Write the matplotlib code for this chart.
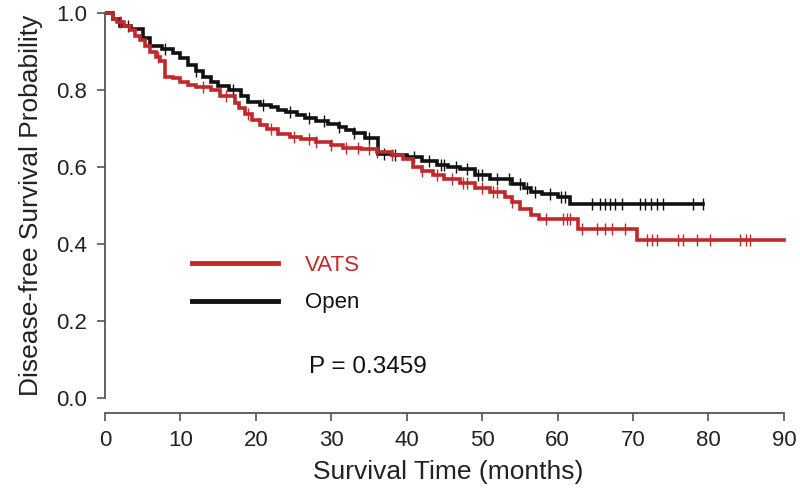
import numpy as np
import matplotlib
matplotlib.use("Agg")
import matplotlib.pyplot as plt

plt.rcParams['font.family'] = ['Liberation Sans', 'DejaVu Sans']

# ---- data ----
open_t = [0, 1, 2, 3.5, 5, 6, 7.5, 9, 10, 11, 12, 13, 14, 15, 16.5, 18, 19, 20.5, 22, 23,
          24, 25.5, 26.5, 28, 29.5, 31, 32, 33, 34.5, 36.2, 38, 40, 42, 44, 45.5, 47, 49,
          51, 54, 55.5, 56.5, 58, 60, 61.6]
open_s = [1.0, 0.985, 0.965, 0.958, 0.935, 0.915, 0.906, 0.895, 0.882, 0.865, 0.85, 0.835,
          0.82, 0.81, 0.80, 0.785, 0.77, 0.762, 0.755, 0.748, 0.742, 0.735, 0.728, 0.72,
          0.712, 0.705, 0.695, 0.688, 0.675, 0.635, 0.63, 0.625, 0.615, 0.605, 0.60, 0.594,
          0.58, 0.568, 0.555, 0.545, 0.536, 0.53, 0.523, 0.503]
open_end = 79.3
open_cens = [3, 8, 12, 17, 21, 24.5, 27, 29, 31, 33, 35, 37, 38.5, 41, 43, 44.5, 45, 46.5,
             48, 49.5, 50, 52, 53.5, 55, 56, 57, 59, 60.5, 61, 64.6, 65.6, 66.3, 67, 67.6,
             68.5, 70.9, 71.6, 72.4, 73.2, 74, 78, 79.3]

vats_t = [0, 1, 1.6, 2.5, 3.3, 4, 4.6, 5.3, 6, 6.7, 7.3, 8, 9, 10, 11, 12, 14, 15.2, 17.2,
          17.8, 18.5, 19.5, 20.5, 21.5, 23, 24.5, 26, 28, 30, 31.5, 34, 36, 38, 39.5, 40.8,
          42, 43.5, 45, 47, 49, 51, 53, 54, 55, 56.5, 57.5, 62.7, 70.5]
vats_s = [1.0, 0.985, 0.977, 0.965, 0.955, 0.94, 0.93, 0.915, 0.898, 0.885, 0.875, 0.835,
          0.83, 0.822, 0.812, 0.808, 0.80, 0.785, 0.765, 0.752, 0.738, 0.722, 0.708, 0.698,
          0.686, 0.678, 0.673, 0.666, 0.656, 0.65, 0.646, 0.64, 0.63, 0.622, 0.60, 0.59,
          0.58, 0.568, 0.558, 0.545, 0.535, 0.522, 0.51, 0.49, 0.475, 0.465, 0.44, 0.41]
vats_end = 90
vats_cens = [2, 7, 13, 16, 19, 22, 25, 27, 28, 30, 32, 33.5, 35, 36, 38, 42, 44, 46, 47.5,
             48, 50, 51.5, 52, 54, 58.5, 60.7, 61.2, 61.6, 63.2, 65.2, 66.3, 67.2, 68.9,
             71.8, 72.5, 73.2, 76, 76.6, 78.5, 80.2, 84.2, 85, 85.5]

groups = ["VATS", "Open"]
colors = {"VATS": "#c0282a", "Open": "#111111"}
x_ticks = [0, 10, 20, 30, 40, 50, 60, 70, 80, 90]
y_ticks = [0.0, 0.2, 0.4, 0.6, 0.8, 1.0]
p_text = "P = 0.3459"

fig = plt.figure(figsize=(8, 4.92), dpi=100)
ax = fig.add_axes([0.13125, 0.1754, 0.858, 0.8138])


def step_at(t, s, x):
    idx = np.searchsorted(np.asarray(t), np.asarray(x), side='right') - 1
    return np.asarray(s)[idx]


data = {
    "Open": (open_t, open_s, open_end, open_cens),
    "VATS": (vats_t, vats_s, vats_end, vats_cens),
}
handles = {}
for g in ["Open", "VATS"]:
    t, s, end, cens = data[g]
    tt = list(t) + [end]
    ss = list(s) + [s[-1]]
    ln, = ax.step(tt, ss, where='post', color=colors[g], lw=2.6, solid_joinstyle='miter')
    ax.plot(cens, step_at(t, s, cens), ls='none', marker='|', ms=8, mew=1.0, color=colors[g])
    handles[g] = ln

leg = ax.legend([handles[g] for g in groups], groups, loc='upper left',
                bbox_to_anchor=(0.127, 0.376), frameon=False, fontsize=16,
                handlelength=3.87, handletextpad=1.2, labelspacing=0.73, borderpad=0,
                borderaxespad=0)
for txt, g in zip(leg.get_texts(), groups):
    txt.set_color("#c0282a" if g == "VATS" else "#111111")
for lh in leg.get_lines():
    lh.set_linewidth(3.5)

ax.text(27, 0.08, p_text, fontsize=17.5, va='center', ha='left', color='#111111')

ax.set_xlim(0, 91)
ax.set_ylim(-0.02, 1.02)
for sp in ['top', 'right']:
    ax.spines[sp].set_visible(False)
ax.spines['left'].set_bounds(0, 1)
ax.spines['bottom'].set_bounds(0, 90)
ax.spines['bottom'].set_position(('outward', 5.3))
for sp in ['left', 'bottom']:
    ax.spines[sp].set_color('#555555')
    ax.spines[sp].set_linewidth(1.3)
ax.set_xticks(x_ticks)
ax.set_yticks(y_ticks)
ax.set_yticklabels([f"{v:.1f}" for v in y_ticks])
ax.tick_params(axis='both', colors='#555555', labelcolor='#222222', labelsize=16,
               length=6, width=1.2)
ax.tick_params(axis='y', pad=7)
ax.tick_params(axis='x', pad=6)
ax.set_xlabel("Survival Time (months)", fontsize=19, color='#222222', labelpad=7)
ax.set_ylabel("Disease-free Survival Probability", fontsize=19, color='#222222', labelpad=9)

fig.savefig("out.png", dpi=100)
